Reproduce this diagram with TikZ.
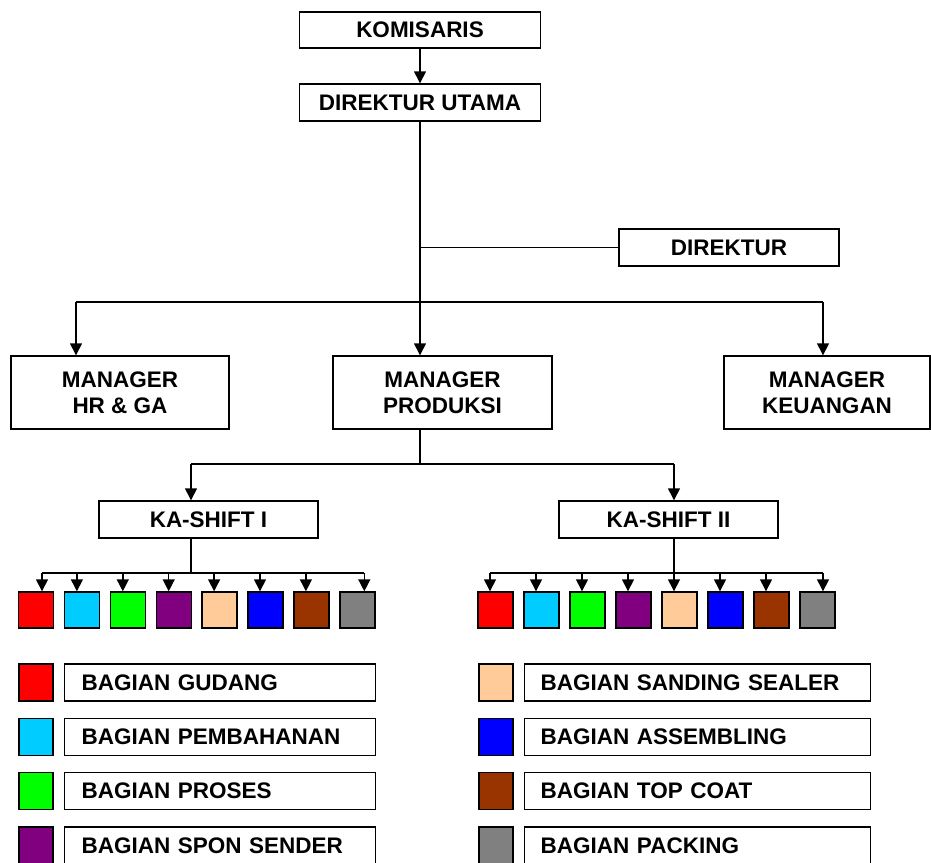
\documentclass[tikz,border=0pt]{standalone}
\usepackage{fontspec}
\setmainfont{Liberation Sans}
\usetikzlibrary{positioning, arrows.meta}
\definecolor{sqred}{HTML}{FF0000}
\definecolor{sqcyan}{HTML}{00CCFF}
\definecolor{sqgreen}{HTML}{00FF00}
\definecolor{sqpurple}{HTML}{800080}
\definecolor{sqpeach}{HTML}{FFCC99}
\definecolor{sqblue}{HTML}{0000FF}
\definecolor{sqbrown}{HTML}{993300}
\definecolor{sqgray}{HTML}{808080}

\begin{document}
\begin{tikzpicture}[x=1pt, y=-1pt, line width=1.4pt,
            font=\fontsize{22.5}{26}\selectfont\bfseries,
            box/.style={draw, fill=white, inner sep=0pt, minimum height=37pt, align=center},
            sq/.style={draw, inner sep=0pt, minimum width=35pt, minimum height=36pt},
            lbl/.style={draw, inner sep=0pt, inner xsep=17pt, minimum height=37pt, align=left, anchor=west},
            arr/.style={-{Triangle[length=12pt, width=12pt]}}]
            \fill[white] (0,0) rectangle (931,862);
            \useasboundingbox (0,0) rectangle (931,862);
            % top levels
            \node[box, minimum width=241pt, minimum height=36pt] (kom) at (420,30) {KOMISARIS};
            \node[box, minimum width=241pt] (dirut) at (420,102.5) {DIREKTUR UTAMA};
            \node[box, minimum width=220pt] (dir) at (729,247.5) {DIREKTUR};
            \node[box, minimum width=218pt, minimum height=73pt] (hr) at (120,392.5) {MANAGER\\HR \& GA};
            \node[box, minimum width=219pt, minimum height=73pt] (prod) at (442.5,392.5) {MANAGER\\PRODUKSI};
            \node[box, minimum width=206pt, minimum height=73pt] (keu) at (827,392.5) {MANAGER\\KEUANGAN};
            \node[box, minimum width=219pt] (shiftA) at (208.5,519.5) {KA-SHIFT I};
            \node[box, minimum width=219pt] (shiftB) at (668.5,519.5) {KA-SHIFT II};
            \coordinate (busL) at (76,302);
            \coordinate (busR) at (823,302);
            \coordinate (sL) at (191,464);
            \coordinate (sR) at (674,464);
            \coordinate (kA) at (191,573);
            \coordinate (kB) at (674,573);
            \draw[arr] (kom) -- (dirut);
            \draw[arr] (dirut.south) -- (dirut.south |- prod.north);
            \draw (dirut.south |- dir.west) -- (dir.west);
            \draw (busL) -- (busR);
            \draw[arr] (busL) -- (busL |- hr.north);
            \draw[arr] (busR) -- (busR |- keu.north);
            \draw (dirut.south |- prod.south) -- (dirut.south |- sL);
            \draw (sL) -- (sR);
            \draw[arr] (sL) -- (sL |- shiftA.north);
            \draw[arr] (sR) -- (sR |- shiftB.north);
            \draw (shiftA.south -| kA) -- (kA);
            \draw (shiftB.south -| kB) -- (kB);
            % bagian per shift
            \foreach \i/\c in {1/sqred, 2/sqcyan, 3/sqgreen, 4/sqpurple, 5/sqpeach, 6/sqblue, 7/sqbrown, 8/sqgray} {
                \node[sq, fill=\c] (a\i) at ({36+45.9*(\i-1)},610) {};
                \node[sq, fill=\c] (b\i) at ({495.5+46*(\i-1)},610) {};
            }
            \draw ([xshift=6pt]a1.north |- kA) -- ([xshift=7pt]a8.north |- kA);
            \draw ([xshift=-5.5pt]b1.north |- kB) -- ([xshift=5.5pt]b8.north |- kB);
            \foreach \i/\dx in {1/6, 2/-5, 3/-5, 4/-5, 5/-5.5, 6/-5.5, 7/-5.5, 8/7}
                \draw[arr] ([xshift=\dx pt]a\i.north |- kA) -- ([xshift=\dx pt]a\i.north);
            \foreach \i/\dx in {1/-5.5, 2/-5.5, 3/-5.5, 4/-5.5, 5/-5.5, 6/-5.5, 7/-5.5, 8/5.5}
                \draw[arr] ([xshift=\dx pt]b\i.north |- kB) -- ([xshift=\dx pt]b\i.north);
            % legend
            \foreach \i/\c/\t in {1/sqred/BAGIAN GUDANG, 2/sqcyan/BAGIAN PEMBAHANAN, 3/sqgreen/BAGIAN PROSES, 4/sqpurple/BAGIAN SPON SENDER} {
                \node[sq, minimum width=34pt, minimum height=37pt, fill=\c] (la\i) at (36,{682.5+54.3*(\i-1)}) {};
                \node[lbl, text width=277pt] (ta\i) at (64,{682.5+54.3*(\i-1)}) {\t};
            }
            \foreach \i/\c/\t in {1/sqpeach/BAGIAN SANDING SEALER, 2/sqblue/BAGIAN ASSEMBLING, 3/sqbrown/BAGIAN TOP COAT, 4/sqgray/BAGIAN PACKING} {
                \node[sq, minimum width=34pt, minimum height=37pt, fill=\c] (lb\i) at (496,{682.5+54.3*(\i-1)}) {};
                \node[lbl, inner xsep=16pt, text width=314pt] (tb\i) at (524,{682.5+54.3*(\i-1)}) {\t};
            }
        \end{tikzpicture}
\end{document}
